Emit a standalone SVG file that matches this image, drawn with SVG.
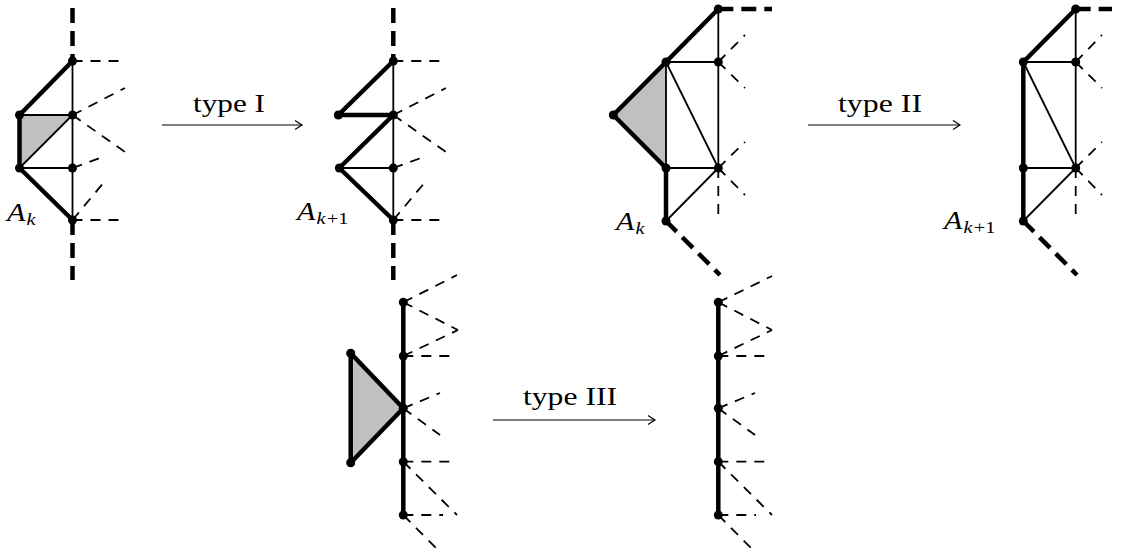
<svg xmlns="http://www.w3.org/2000/svg" width="1125" height="555" viewBox="0 0 1125 555">
<style>
.thin{stroke:#000;stroke-width:1.8;fill:none;stroke-linecap:butt}
.thick{stroke:#000;stroke-width:4.5;fill:none;stroke-linejoin:round;stroke-linecap:round}
.tdash{stroke:#000;stroke-width:1.8;fill:none;stroke-dasharray:10 8}
.kdash{stroke:#000;stroke-width:4.5;fill:none;stroke-dasharray:15 8}
.gray{fill:#c0c0c0;stroke:none}
.dot{fill:#000}
.arr{stroke:#000;stroke-width:1.2;fill:none}
.lbl{font-size:26px;fill:#000}
.math{font-style:italic;font-size:25px;fill:#000}
.sub{font-size:17px}
.up{font-style:normal}
</style>
<defs>
<marker id="head" markerUnits="userSpaceOnUse" markerWidth="12" markerHeight="12" viewBox="-10 -6 12 12" refX="0" refY="0" orient="auto">
<path d="M-7,-4.5 L0,0 L-7,4.5" stroke="#000" stroke-width="1.2" fill="none"/>
</marker>
</defs>

<g id="panel-I-before">
<polygon class="gray" points="19.5,115 72.5,115 19.5,168"/>
<path class="kdash" d="M72.5,0 V61" stroke-dashoffset="15"/>
<path class="kdash" d="M72.5,220 V280"/>
<path class="tdash" d="M72.5,61 L125,61 M72.5,115 L125,88 M72.5,115 L125,152 M72.5,168 L100,158 M72.5,220 L105,181 M72.5,220 L125,220"/>
<path class="thin" d="M72.5,61 V220 M19.5,115 H72.5 M19.5,168 H72.5 M19.5,168 L72.5,115"/>
<polyline class="thick" points="72.5,61 19.5,115 19.5,168 72.5,220"/>
<g class="dot"><circle cx="72.5" cy="61" r="4.5"/><circle cx="72.5" cy="115" r="4.5"/><circle cx="72.5" cy="168" r="4.5"/><circle cx="72.5" cy="220" r="4.5"/><circle cx="19.5" cy="115" r="4.5"/><circle cx="19.5" cy="168" r="4.5"/></g>
<text class="math" font-family="Liberation Serif, serif" transform="translate(7,221) scale(1.2,1)">A<tspan class="sub" dx="1" dy="4">k</tspan></text>
</g>

<g id="panel-I-after">
<path class="kdash" d="M393.3,0 V61" stroke-dashoffset="15"/>
<path class="kdash" d="M393.3,220 V280"/>
<path class="tdash" d="M393.3,61 L446,61 M393.3,115 L446,88 M393.3,115 L446,152 M393.3,168 L421,158 M393.3,220 L426,181 M393.3,220 L446,220"/>
<path class="thin" d="M393.3,61 V220 M339.3,168 H393.3"/>
<polyline class="thick" points="393.3,61 338.3,115 393.3,115"/>
<polyline class="thick" points="393.3,115 339.3,168 393.3,220"/>
<g class="dot"><circle cx="393.3" cy="61" r="4.5"/><circle cx="393.3" cy="115" r="4.5"/><circle cx="393.3" cy="168" r="4.5"/><circle cx="393.3" cy="220" r="4.5"/><circle cx="338.3" cy="115" r="4.5"/><circle cx="339.3" cy="168" r="4.5"/></g>
<text class="math" font-family="Liberation Serif, serif" transform="translate(297,220) scale(1.2,1)">A<tspan class="sub" dx="1" dy="4">k<tspan class="up" dx="1">+1</tspan></tspan></text>
</g>

<g id="panel-II-before">
<polygon class="gray" points="666,62 613.3,115 666,168"/>
<path class="kdash" d="M718.3,9 H772"/>
<path class="kdash" d="M666,221 L720,275"/>
<path class="tdash" d="M718.3,168 V221 M718.3,62 L745,35 M718.3,62 L745,88 M718.3,168 L745,142 M718.3,168 L745,195"/>
<path class="thin" d="M666,62 V168 M666,62 H718.3 M666,62 L718.3,168 M666,168 H718.3 M666,221 L718.3,168 M718.3,9 V168"/>
<polyline class="thick" points="718.3,9 666,62 613.3,115 666,168 666,221"/>
<g class="dot"><circle cx="718.3" cy="9" r="4.5"/><circle cx="666" cy="62" r="4.5"/><circle cx="718.3" cy="62" r="4.5"/><circle cx="613.3" cy="115" r="4.5"/><circle cx="666" cy="168" r="4.5"/><circle cx="718.3" cy="168" r="4.5"/><circle cx="666" cy="221" r="4.5"/></g>
<text class="math" font-family="Liberation Serif, serif" transform="translate(616,230) scale(1.2,1)">A<tspan class="sub" dx="1" dy="4">k</tspan></text>
</g>

<g id="panel-II-after">
<path class="kdash" d="M1075.7,9 H1112"/>
<path class="kdash" d="M1023.3,221 L1077,275"/>
<path class="tdash" d="M1075.7,168 V221 M1075.7,62 L1102,35 M1075.7,62 L1102,88 M1075.7,168 L1102,142 M1075.7,168 L1102,195"/>
<path class="thin" d="M1023.3,62 H1075.7 M1023.3,62 L1075.7,168 M1023.3,168 H1075.7 M1023.3,221 L1075.7,168 M1075.7,9 V168"/>
<polyline class="thick" points="1075.7,9 1023.3,62 1023.3,221"/>
<g class="dot"><circle cx="1075.7" cy="9" r="4.5"/><circle cx="1023.3" cy="62" r="4.5"/><circle cx="1075.7" cy="62" r="4.5"/><circle cx="1023.3" cy="168" r="4.5"/><circle cx="1075.7" cy="168" r="4.5"/><circle cx="1023.3" cy="221" r="4.5"/></g>
<text class="math" font-family="Liberation Serif, serif" transform="translate(944,229) scale(1.2,1)">A<tspan class="sub" dx="1" dy="4">k<tspan class="up" dx="1">+1</tspan></tspan></text>
</g>

<g id="panel-III-before">
<polygon class="gray" points="350.7,353.3 403.3,408.3 350.7,462.7"/>
<path class="tdash" d="M403.3,302.3 L457,275 M403.3,302.3 L458,330 M403.3,356 L458,330 M403.3,356 H457 M403.3,408.3 L440,393 M403.3,408.3 L440,435 M403.3,461.7 H457 M403.3,461.7 L457,515 M403.3,515 H443 M403.3,515 L440,552"/>
<path class="thick" d="M403.3,302.3 V515"/>
<polygon class="thick" points="350.7,353.3 403.3,408.3 350.7,462.7"/>
<g class="dot"><circle cx="403.3" cy="302.3" r="4.5"/><circle cx="403.3" cy="356" r="4.5"/><circle cx="403.3" cy="408.3" r="4.5"/><circle cx="403.3" cy="461.7" r="4.5"/><circle cx="403.3" cy="515" r="4.5"/><circle cx="350.7" cy="353.3" r="4.5"/><circle cx="350.7" cy="462.7" r="4.5"/></g>
</g>

<g id="panel-III-after">
<path class="tdash" d="M718.3,302.3 L772,276 M718.3,302.3 L772,330 M718.3,356 L772,330 M718.3,356 H772 M718.3,408.3 L755,393 M718.3,408.3 L755,435 M718.3,461.7 H772 M718.3,461.7 L772,515 M718.3,515 H756 M718.3,515 L755,552"/>
<path class="thick" d="M718.3,302.3 V515"/>
<g class="dot"><circle cx="718.3" cy="302.3" r="4.5"/><circle cx="718.3" cy="356" r="4.5"/><circle cx="718.3" cy="408.3" r="4.5"/><circle cx="718.3" cy="461.7" r="4.5"/><circle cx="718.3" cy="515" r="4.5"/></g>
</g>

<g id="connectors">
<line class="arr" x1="162" y1="125" x2="302" y2="125" marker-end="url(#head)"/>
<line class="arr" x1="808" y1="125" x2="960" y2="125" marker-end="url(#head)"/>
<line class="arr" x1="493" y1="420" x2="655" y2="420" marker-end="url(#head)"/>
<text class="lbl" font-family="Liberation Serif, serif" x="193" y="112" textLength="72" lengthAdjust="spacingAndGlyphs">type I</text>
<text class="lbl" font-family="Liberation Serif, serif" x="838" y="112" textLength="84" lengthAdjust="spacingAndGlyphs">type II</text>
<text class="lbl" font-family="Liberation Serif, serif" x="523" y="405" textLength="94" lengthAdjust="spacingAndGlyphs">type III</text>
</g>
</svg>
